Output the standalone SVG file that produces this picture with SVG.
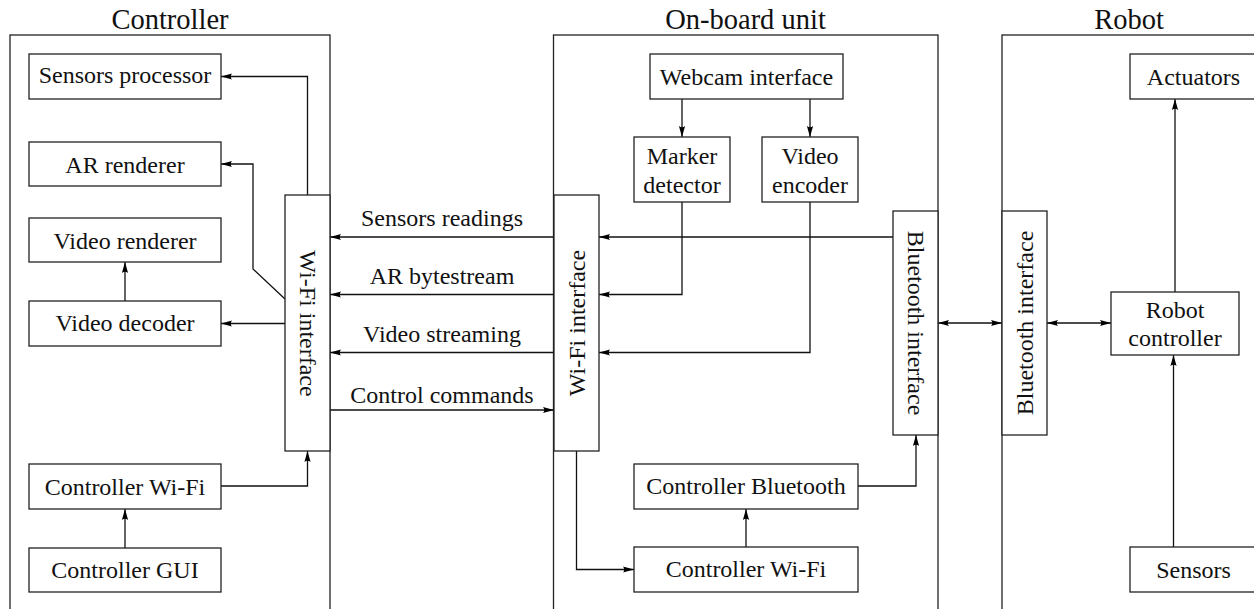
<svg xmlns="http://www.w3.org/2000/svg" width="1254" height="609" viewBox="0 0 1254 609" font-family="'Liberation Serif', 'Times New Roman', Times, 'DejaVu Serif', 'Noto Serif', serif">
  <style>
    .grp { fill: none; stroke: #222; stroke-width: 1.3; }
    .box { fill: #fff; stroke: #222; stroke-width: 1.3; }
    .title { font-family: 'Liberation Serif', 'Times New Roman', Times, 'DejaVu Serif', 'Noto Serif', serif; font-size: 28.5px; fill: #111; text-anchor: middle; }
    .lbl { font-family: 'Liberation Serif', 'Times New Roman', Times, 'DejaVu Serif', 'Noto Serif', serif; font-size: 24px; fill: #111; text-anchor: middle; }
    .vlbl { font-family: 'Liberation Serif', 'Times New Roman', Times, 'DejaVu Serif', 'Noto Serif', serif; font-size: 24px; fill: #111; text-anchor: middle; dominant-baseline: central; }
    .wire { fill: none; stroke: #111; stroke-width: 1.3; }
    .one { marker-end: url(#ah); }
    .two { marker-start: url(#ah); marker-end: url(#ah); }
  </style>
  <defs>
    <marker id="ah" markerUnits="userSpaceOnUse" markerWidth="12" markerHeight="8" viewBox="0 0 12 8" refX="11" refY="4" orient="auto-start-reverse">
      <path d="M11,4 L0,0.9 Q2.5,4 0,7.1 Z" fill="#000"/>
    </marker>
  </defs>

  <rect width="1254" height="609" fill="#fff"/>

  <!-- Subsystem frames -->
  <g id="controller-frame">
    <rect class="grp" x="10" y="35" width="320" height="600"/>
    <text class="title" x="170" y="29">Controller</text>
  </g>
  <g id="onboard-frame">
    <rect class="grp" x="553.5" y="35" width="384.5" height="600"/>
    <text class="title" x="745.5" y="29">On-board unit</text>
  </g>
  <g id="robot-frame">
    <rect class="grp" x="1002" y="35" width="300" height="600"/>
    <text class="title" x="1129" y="29">Robot</text>
  </g>

  <!-- Connectors -->
  <g id="connectors">
    <path class="wire one" d="M307.5,195 V76.5 H221"/>
    <path class="wire one" d="M285,299 L253,269 V164 H221"/>
    <path class="wire one" d="M285,323.5 H221"/>
    <path class="wire one" d="M125,301 V262"/>
    <path class="wire one" d="M125,548 V509"/>
    <path class="wire one" d="M221,486 H307.5 V451"/>
    <path class="wire one" d="M554,237 H330"/>
    <path class="wire one" d="M554,294.5 H330"/>
    <path class="wire one" d="M554,352.5 H330"/>
    <path class="wire one" d="M330,410 H554"/>
    <path class="wire one" d="M893,237 H599"/>
    <path class="wire one" d="M682,202 V294.5 H599"/>
    <path class="wire one" d="M810,202 V352.5 H599"/>
    <path class="wire one" d="M682,99 V137"/>
    <path class="wire one" d="M810,99 V137"/>
    <path class="wire one" d="M576.5,451 V569.5 H634"/>
    <path class="wire one" d="M746,547 V509"/>
    <path class="wire one" d="M858,486 H916 V435"/>
    <path class="wire two" d="M938,323 H1002"/>
    <path class="wire two" d="M1047,323 H1111"/>
    <path class="wire one" d="M1175,292 V99"/>
    <path class="wire one" d="M1173.5,547 V355"/>
    <text class="lbl" x="442" y="225.5">Sensors readings</text>
    <text class="lbl" x="442" y="283.5">AR bytestream</text>
    <text class="lbl" x="442" y="341.5">Video streaming</text>
    <text class="lbl" x="442" y="402.5">Control commands</text>
  </g>

  <!-- Controller nodes -->
  <g id="sensors-processor">
    <rect class="box" x="29" y="54" width="192" height="45"/>
    <text class="lbl" x="125" y="82.5">Sensors processor</text>
  </g>
  <g id="ar-renderer">
    <rect class="box" x="29" y="142" width="192" height="44"/>
    <text class="lbl" x="125" y="172.5">AR renderer</text>
  </g>
  <g id="video-renderer">
    <rect class="box" x="29" y="218" width="192" height="44"/>
    <text class="lbl" x="125" y="248.5">Video renderer</text>
  </g>
  <g id="video-decoder">
    <rect class="box" x="29" y="301" width="192" height="45"/>
    <text class="lbl" x="125" y="331">Video decoder</text>
  </g>
  <g id="controller-wifi">
    <rect class="box" x="29" y="464" width="192" height="45"/>
    <text class="lbl" x="125" y="494.5">Controller Wi-Fi</text>
  </g>
  <g id="controller-gui">
    <rect class="box" x="29" y="548" width="192" height="44"/>
    <text class="lbl" x="125" y="578">Controller GUI</text>
  </g>
  <g id="controller-wifi-interface">
    <rect class="box" x="285" y="195" width="45" height="256"/>
    <text class="vlbl" x="307.5" y="323.5" transform="rotate(90 307.5 323.5)">Wi-Fi interface</text>
  </g>

  <!-- On-board unit nodes -->
  <g id="webcam-interface">
    <rect class="box" x="650" y="54" width="193" height="45"/>
    <text class="lbl" x="746.5" y="85">Webcam interface</text>
  </g>
  <g id="marker-detector">
    <rect class="box" x="634" y="137" width="96" height="65"/>
    <text class="lbl" x="682" y="163.5">Marker</text>
    <text class="lbl" x="682" y="192.5">detector</text>
  </g>
  <g id="video-encoder">
    <rect class="box" x="762" y="137" width="96" height="65"/>
    <text class="lbl" x="810" y="163.5">Video</text>
    <text class="lbl" x="810" y="192.5">encoder</text>
  </g>
  <g id="onboard-wifi-interface">
    <rect class="box" x="554" y="195" width="45" height="256"/>
    <text class="vlbl" x="576.5" y="323" transform="rotate(-90 576.5 323)">Wi-Fi interface</text>
  </g>
  <g id="onboard-bluetooth-interface">
    <rect class="box" x="893" y="211" width="45" height="224"/>
    <text class="vlbl" x="915.5" y="323" transform="rotate(90 915.5 323)">Bluetooth interface</text>
  </g>
  <g id="controller-bluetooth">
    <rect class="box" x="634" y="464" width="224" height="45"/>
    <text class="lbl" x="746" y="493.5">Controller Bluetooth</text>
  </g>
  <g id="onboard-controller-wifi">
    <rect class="box" x="634" y="547" width="224" height="45"/>
    <text class="lbl" x="746" y="577">Controller Wi-Fi</text>
  </g>

  <!-- Robot nodes -->
  <g id="actuators">
    <rect class="box" x="1130" y="54" width="128" height="45"/>
    <text class="lbl" x="1193.5" y="85">Actuators</text>
  </g>
  <g id="robot-bluetooth-interface">
    <rect class="box" x="1002" y="211" width="45" height="224"/>
    <text class="vlbl" x="1024.5" y="323" transform="rotate(-90 1024.5 323)">Bluetooth interface</text>
  </g>
  <g id="robot-controller">
    <rect class="box" x="1111" y="292" width="128" height="63"/>
    <text class="lbl" x="1175" y="317.5">Robot</text>
    <text class="lbl" x="1175" y="346">controller</text>
  </g>
  <g id="sensors">
    <rect class="box" x="1130" y="547" width="128" height="45"/>
    <text class="lbl" x="1193.5" y="577.5">Sensors</text>
  </g>
</svg>
